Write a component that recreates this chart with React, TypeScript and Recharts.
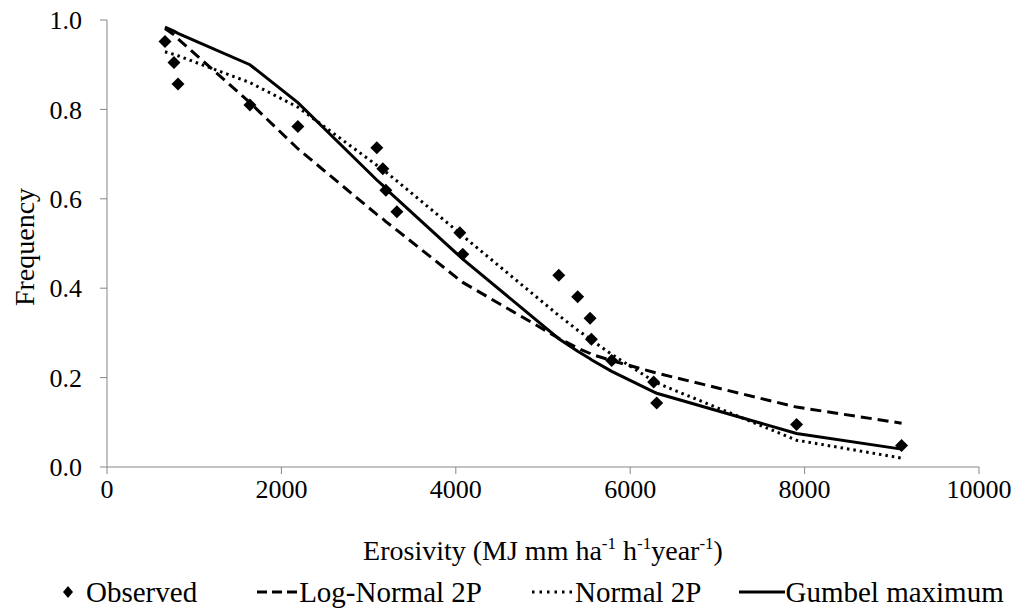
import { ComposedChart, Line, Scatter, XAxis, YAxis, Legend } from 'recharts';

// Erosivity values of the observed events (x axis)
const erosivity = [665, 768, 814, 1639, 2189, 3094, 3163, 3198, 3324, 4046, 4080, 5181, 5398, 5540, 5555, 5788, 6269, 6304, 7908, 9112];

// Observed exceedance frequency
const observed = [0.952, 0.905, 0.857, 0.810, 0.762, 0.714, 0.667, 0.619, 0.571, 0.524, 0.476, 0.429, 0.381, 0.333, 0.286, 0.238, 0.190, 0.143, 0.095, 0.048];

// Fitted distributions
const logNormal = [0.981, 0.967, 0.958, 0.815, 0.712, 0.565, 0.555, 0.549, 0.530, 0.418, 0.413, 0.288, 0.266, 0.254, 0.252, 0.238, 0.212, 0.210, 0.134, 0.098];
const normal = [0.929, 0.923, 0.920, 0.860, 0.805, 0.675, 0.665, 0.660, 0.640, 0.523, 0.517, 0.339, 0.306, 0.287, 0.284, 0.252, 0.192, 0.188, 0.060, 0.020];
const gumbel = [0.984, 0.975, 0.970, 0.900, 0.815, 0.642, 0.630, 0.622, 0.600, 0.471, 0.465, 0.287, 0.259, 0.242, 0.240, 0.214, 0.168, 0.165, 0.075, 0.040];

const xTicks = [0, 2000, 4000, 6000, 8000, 10000];
const yTicks = [0, 0.2, 0.4, 0.6, 0.8, 1.0];

const data = erosivity.map((x, i) => ({
    x,
    observed: observed[i],
    logNormal: logNormal[i],
    normal: normal[i],
    gumbel: gumbel[i],
}));

const FONT = 'Liberation Serif, Tinos, Times New Roman, DejaVu Serif, serif';
const AXIS = '#868686';

function Diamond(props: any) {
    const { cx, cy } = props;
    if (cx == null || cy == null) return null;
    const r = 6.5;
    return <polygon points={`${cx},${cy - r} ${cx + r},${cy} ${cx},${cy + r} ${cx - r},${cy}`} fill="#000" />;
}

function XTitle(props: any) {
    const { viewBox } = props;
    const cx = viewBox.x + viewBox.width / 2;
    const y = viewBox.y + 93;
    return (
        <text x={cx} y={y} textAnchor="middle" style={{ fontFamily: FONT }} fontSize={28} fill="#000">
            Erosivity (MJ mm ha
            <tspan fontSize={17} dy={-11}>-1</tspan>
            <tspan dy={11}> h</tspan>
            <tspan fontSize={17} dy={-11}>-1</tspan>
            <tspan dy={11}>year</tspan>
            <tspan fontSize={17} dy={-11}>-1</tspan>
            <tspan dy={11}>)</tspan>
        </text>
    );
}

function YTitle() {
    return (
        <text
            x={24}
            y={247}
            transform="rotate(-90, 24, 247)"
            textAnchor="middle"
            dominantBaseline="central"
            style={{ fontFamily: FONT }}
            fontSize={28}
            fill="#000"
        >
            Frequency
        </text>
    );
}

function LegendContent() {
    const item = { display: 'flex', alignItems: 'center' } as const;
    const label = { fontFamily: FONT, fontSize: 29, color: '#000', lineHeight: '40px' };
    return (
        <div style={{ display: 'flex', alignItems: 'center', height: 40 }}>
            <div style={{ ...item, marginLeft: 62 }}>
                <svg width={24} height={14}>
                    <polygon points="6,1 11,7 6,13 1,7" fill="#000" />
                </svg>
                <span style={label}>Observed</span>
            </div>
            <div style={{ ...item, marginLeft: 60 }}>
                <svg width={42} height={10}>
                    <line x1={0} y1={5} x2={42} y2={5} stroke="#000" strokeWidth={3} strokeDasharray="10 5" />
                </svg>
                <span style={label}>Log-Normal 2P</span>
            </div>
            <div style={{ ...item, marginLeft: 50 }}>
                <svg width={43} height={10}>
                    <line x1={0} y1={5} x2={40} y2={5} stroke="#000" strokeWidth={3} strokeDasharray="2.5 5" />
                </svg>
                <span style={label}>Normal 2P</span>
            </div>
            <div style={{ ...item, marginLeft: 38 }}>
                <svg width={46} height={10}>
                    <line x1={0} y1={5} x2={46} y2={5} stroke="#000" strokeWidth={3} />
                </svg>
                <span style={label}>Gumbel maximum</span>
            </div>
        </div>
    );
}

export default function App() {
    return (
        <div style={{ position: 'absolute', left: 0, top: 0, width: 1019, height: 612, background: '#fff', fontFamily: FONT }}>
            <ComposedChart width={1019} height={612} data={data} margin={{ top: 20, right: 40, left: 0, bottom: 0 }} style={{ fontFamily: FONT }}>
                <XAxis
                    dataKey="x"
                    type="number"
                    domain={[0, 10000]}
                    ticks={xTicks}
                    interval={0}
                    height={105}
                    stroke={AXIS}
                    tickSize={7}
                    tickMargin={6}
                    tick={{ fill: '#000', fontFamily: FONT, fontSize: 26 }}
                    label={{ content: <XTitle /> }}
                />
                <YAxis
                    type="number"
                    domain={[0, 1]}
                    ticks={yTicks}
                    interval={0}
                    width={107}
                    stroke={AXIS}
                    tickSize={7}
                    tickMargin={18}
                    tickFormatter={(v: number) => v.toFixed(1)}
                    tick={{ fill: '#000', fontFamily: FONT, fontSize: 26 }}
                    label={{ content: <YTitle /> }}
                />
                <Legend
                    verticalAlign="bottom"
                    content={<LegendContent />}
                    wrapperStyle={{ left: 0, width: 1019, height: 40, bottom: 0 }}
                />
                <Line dataKey="logNormal" type="linear" stroke="#000" strokeWidth={3} strokeDasharray="11 6" dot={false} activeDot={false} isAnimationActive={false} />
                <Line dataKey="normal" type="linear" stroke="#000" strokeWidth={3} strokeDasharray="2.5 4" dot={false} activeDot={false} isAnimationActive={false} />
                <Line dataKey="gumbel" type="linear" stroke="#000" strokeWidth={3} dot={false} activeDot={false} isAnimationActive={false} />
                <Scatter dataKey="observed" fill="#000" shape={<Diamond />} isAnimationActive={false} />
            </ComposedChart>
        </div>
    );
}
